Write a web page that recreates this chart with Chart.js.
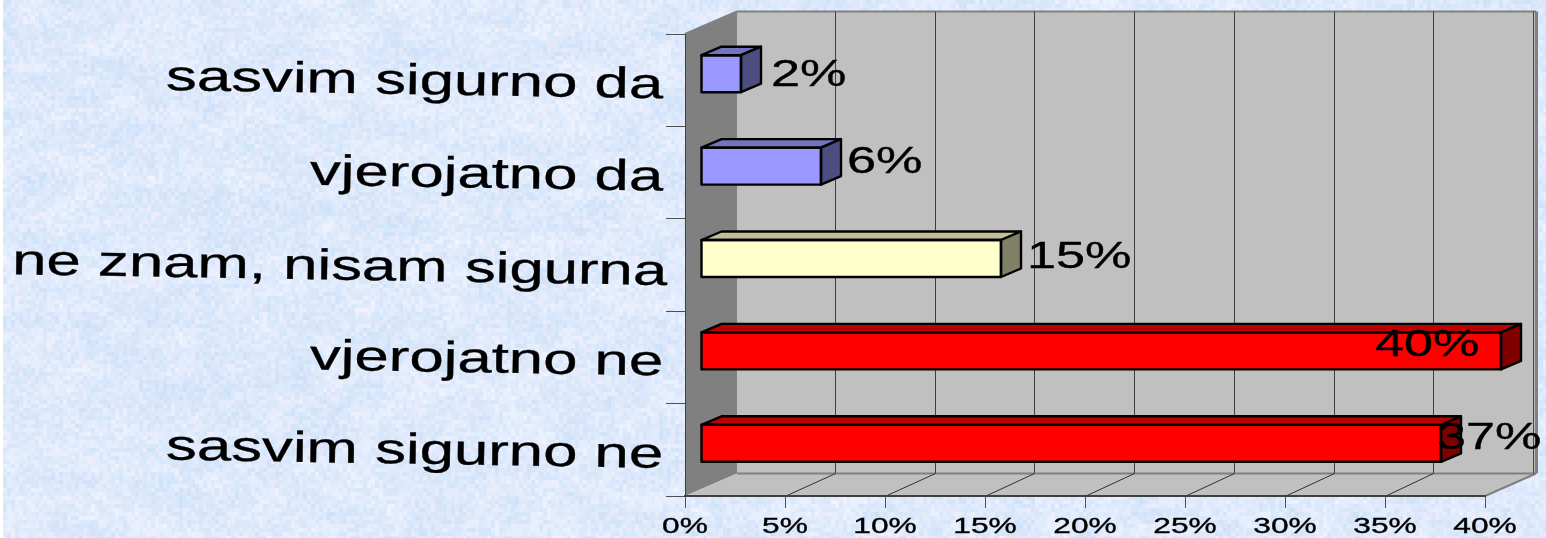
<!DOCTYPE html>
<html>
<head>
<meta charset="utf-8">
<title>chart</title>
<script src="https://cdn.jsdelivr.net/npm/chart.js@4"></script>
<style>
  html, body { margin: 0; padding: 0; background: #fff; overflow: hidden; }
  canvas { display: block; }
</style>
</head>
<body>
<canvas id="myChart" width="1546" height="538"></canvas>
<script>
const categories = ["sasvim sigurno da", "vjerojatno da", "ne znam, nisam sigurna", "vjerojatno ne", "sasvim sigurno ne"];
const percentValues = [2, 6, 15, 40, 37];
const barColors = ["#9999ff", "#9999ff", "#ffffcc", "#ff0000", "#ff0000"];
const topColors = ["#7373bf", "#7373bf", "#bfbf99", "#bf0000", "#bf0000"];
const sideColors = ["#4d4d80", "#4d4d80", "#808066", "#800000", "#800000"];

// where each value label sits, relative to the end of its bar and the middle of its row
const labelDx = [30, 26, 26, -126, -4];
const labelDy = [6, 0, 3, -1, -1];

const FONT = '"Liberation Sans", Arial, sans-serif';
const wallDx = 52, wallDy = -22.5;   // front plane -> back wall
const barDx = 16, barDy = -6.5;      // front plane -> front of the bars
const depthDx = 20, depthDy = -8.5;  // thickness of the bars

function hash(x, y) {
  const s = Math.sin(x * 12.9898 + y * 78.233) * 43758.5453;
  return s - Math.floor(s);
}

function blotch(x, y) {
  const ix = Math.floor(x), iy = Math.floor(y);
  let fx = x - ix, fy = y - iy;
  fx = fx * fx * (3 - 2 * fx);
  fy = fy * fy * (3 - 2 * fy);
  const a = hash(ix, iy) + (hash(ix + 1, iy) - hash(ix, iy)) * fx;
  const b = hash(ix, iy + 1) + (hash(ix + 1, iy + 1) - hash(ix, iy + 1)) * fx;
  return a + (b - a) * fy;
}

// mottled paper behind the chart
function drawPaper(ctx, w, h) {
  ctx.fillStyle = "#fff";
  ctx.fillRect(0, 0, w, h);
  const size = 4;
  for (let y = 0; y < h; y += size) {
    for (let x = 3; x < w; x += size) {
      let t = 0.48 + (blotch(x / 30, y / 16) - 0.5) * 0.42 + (hash(x, y) - 0.5) * 0.55;
      t = Math.max(0, Math.min(1, t));
      const lav = hash(y + 7, x + 3) > 0.82 ? 7 : 0;
      const r = 204 + 36 * t + lav, g = 224 + 20 * t, b = 248 + 7 * t;
      ctx.fillStyle = "rgb(" + Math.round(r) + "," + Math.round(g) + "," + Math.round(b) + ")";
      ctx.fillRect(x, y, size, size);
    }
  }
}

function poly(ctx, pts, fill, stroke, lw) {
  ctx.beginPath();
  ctx.moveTo(pts[0][0], pts[0][1]);
  for (let i = 1; i < pts.length; i++) ctx.lineTo(pts[i][0], pts[i][1]);
  ctx.closePath();
  if (fill) { ctx.fillStyle = fill; ctx.fill(); }
  if (stroke) { ctx.strokeStyle = stroke; ctx.lineWidth = lw; ctx.stroke(); }
}

function line(ctx, x1, y1, x2, y2, color, lw) {
  ctx.beginPath();
  ctx.moveTo(x1, y1);
  ctx.lineTo(x2, y2);
  ctx.strokeStyle = color;
  ctx.lineWidth = lw;
  ctx.stroke();
}

// the original text is stretched sideways and the row labels lean a little
function wideText(ctx, text, x, y, size, stretch, align, angle) {
  ctx.save();
  ctx.translate(x, y);
  if (angle) ctx.rotate(angle);
  ctx.scale(stretch, 1);
  ctx.font = size + "px " + FONT;
  ctx.fillStyle = "#000";
  ctx.strokeStyle = "#000";
  ctx.lineWidth = 0.35;
  ctx.textAlign = align;
  ctx.textBaseline = "alphabetic";
  ctx.fillText(text, 0, 0);
  ctx.strokeText(text, 0, 0);
  ctx.restore();
}

// back wall x is a touch narrower than the front axis
function backX(scale, value) {
  return scale.getPixelForValue(value) + wallDx - 2 * value / scale.max;
}

const box3d = {
  id: "box3d",
  beforeDraw(chart) {
    const ctx = chart.ctx;
    const a = chart.chartArea;
    const xs = chart.scales.x;
    drawPaper(ctx, chart.width, chart.height);

    const bl = backX(xs, 0), br = backX(xs, xs.max);
    const top = a.top + wallDy, bot = a.bottom + wallDy;

    poly(ctx, [[bl, top], [br, top], [br, bot], [bl, bot]], "#c0c0c0");
    poly(ctx, [[a.left, a.top], [bl, top], [bl, bot], [a.left, a.bottom]], "#808080");
    poly(ctx, [[a.left, a.bottom], [bl, bot], [br, bot], [a.right, a.bottom]], "#c0c0c0");

    line(ctx, a.left, a.top, bl, top, "#808080", 2);
    line(ctx, bl, top, br + 1, top, "#808080", 2);
    line(ctx, br + 1.5, top, br + 1.5, bot, "#808080", 3);
    line(ctx, bl, bot, br + 1, bot, "#808080", 2);
    line(ctx, a.right, a.bottom, br + 1, bot, "#808080", 2);

    // grid on the back wall and across the floor
    xs.ticks.forEach(t => {
      const bx = Math.round(backX(xs, t.value)) - 1.5;
      const fx = xs.getPixelForValue(t.value);
      if (t.value > 0) {
        line(ctx, bx, top, bx, bot, "#404040", 1);
        if (t.value < xs.max) line(ctx, fx + 1, a.bottom, bx, bot, "#303030", 1);
      }
    });
  },
  beforeDatasetDraw(chart) {
    chart.ctx.save();
    chart.ctx.translate(barDx, barDy);
  },
  afterDatasetDraw(chart, args) {
    const ctx = chart.ctx;
    ctx.lineJoin = "round";
    args.meta.data.forEach((el, i) => {
      const p = el.getProps(["x", "y", "base", "height"], true);
      const t = p.y - p.height / 2, b = p.y + p.height / 2;
      poly(ctx, [[p.base, t], [p.base + depthDx, t + depthDy], [p.x + depthDx, t + depthDy], [p.x, t]],
        topColors[i], "#000", 2.4);
      poly(ctx, [[p.x, t], [p.x + depthDx, t + depthDy], [p.x + depthDx, b + depthDy], [p.x, b]],
        sideColors[i], "#000", 2.4);
      poly(ctx, [[p.base, t], [p.x, t], [p.x, b], [p.base, b]], null, "#000", 2.4);
    });
    ctx.restore();
  },
  afterDatasetsDraw(chart) {
    const ctx = chart.ctx;
    const xs = chart.scales.x, ys = chart.scales.y;
    percentValues.forEach((v, i) => {
      const x = xs.getPixelForValue(v) + barDx + labelDx[i];
      const y = ys.getPixelForValue(i) + labelDy[i];
      wideText(ctx, v + "%", x, y, 36, 1.45, "left");
    });
    // axis text
    ys.ticks.forEach((t, i) => {
      const right = i === 2 ? 667 : 663;
      wideText(ctx, t.label, right, ys.getPixelForTick(i) + (i === 2 ? 20 : 18), 43, 1.435, "right", 0.0165);
    });
    xs.ticks.forEach((t, i) => {
      wideText(ctx, t.label, xs.getPixelForTick(i), 533, 22, 1.44, "center");
    });
  }
};

new Chart(document.getElementById("myChart"), {
  type: "bar",
  data: {
    labels: categories,
    datasets: [{
      data: percentValues,
      backgroundColor: barColors,
      borderWidth: 0,
      barThickness: 37,
      clip: false
    }]
  },
  options: {
    indexAxis: "y",
    responsive: false,
    animation: false,
    events: [],
    layout: { padding: { left: 666, top: 34, right: 61, bottom: 30 } },
    plugins: { legend: { display: false }, tooltip: { enabled: false } },
    scales: {
      x: {
        min: 0,
        max: 40,
        ticks: { stepSize: 5, display: false, callback: v => v + "%" },
        grid: { drawOnChartArea: false, drawTicks: true, tickLength: 12, color: "#505050", lineWidth: 1 },
        border: { color: "#404040", width: 2 }
      },
      y: {
        offset: true,
        ticks: { display: false },
        grid: { offset: true, drawOnChartArea: false, drawTicks: true, tickLength: 19, color: "#505050", lineWidth: 1 },
        border: { color: "#404040", width: 1 }
      }
    }
  },
  plugins: [box3d]
});
</script>
</body>
</html>
